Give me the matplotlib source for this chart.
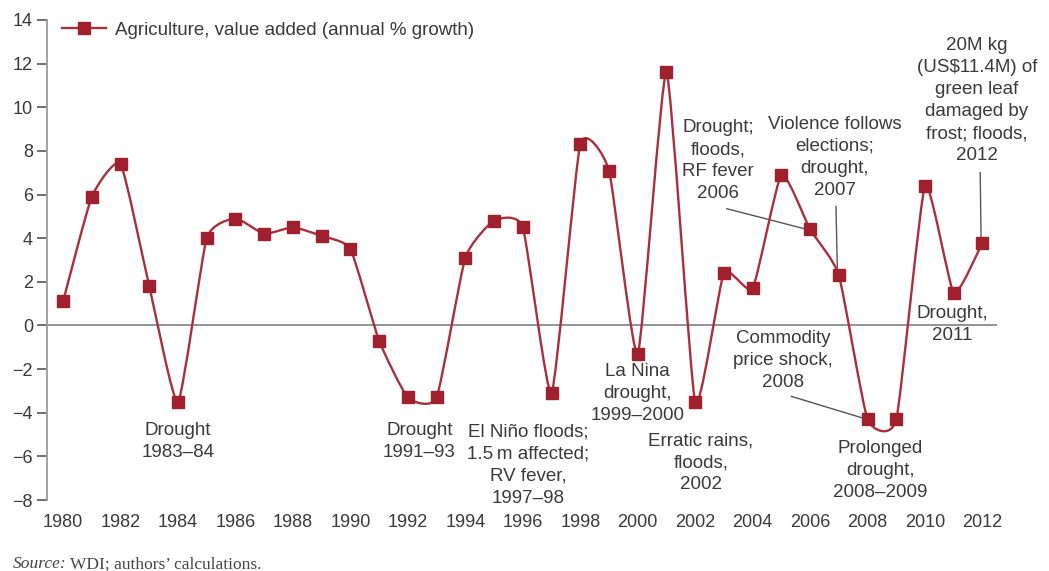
import numpy as np
import matplotlib.pyplot as plt
from matplotlib.path import Path
from matplotlib.patches import PathPatch

years = list(range(1980, 2013))
growth = [1.1, 5.9, 7.4, 1.8, -3.5, 4.0, 4.9, 4.2, 4.5, 4.1, 3.5,
          -0.7, -3.3, -3.3, 3.1, 4.8, 4.5, -3.1, 8.3, 7.1, -1.3,
          11.6, -3.5, 2.4, 1.7, 6.9, 4.4, 2.3, -4.3, -4.3, 6.4, 1.5, 3.8]
y_ticks = [-8, -6, -4, -2, 0, 2, 4, 6, 8, 10, 12, 14]
x_ticks = list(range(1980, 2013, 2))

# notes: text, text position, optional leader line (start, end)
notes = [
    ("Drought\n1983\u201384", (1984.0, -5.3), None),
    ("Drought\n1991\u201393", (1992.4, -5.3), None),
    ("El Niño floods;\n1.5\u2009m affected;\nRV fever,\n1997\u201398", (1996.2, -6.4), None),
    ("La Nina\ndrought,\n1999\u20132000", (2000.0, -3.1), None),
    ("Erratic rains,\nfloods,\n2002", (2002.2, -6.3), None),
    ("Commodity\nprice shock,\n2008", (2005.05, -1.6), ((2005.35, -3.25), (2007.85, -4.25))),
    ("Prolonged\ndrought,\n2008\u20132009", (2008.45, -6.65), None),
    ("Drought,\n2011", (2010.95, 0.05), None),
    ("Drought;\nfloods,\nRF fever\n2006", (2002.8, 7.55), ((2003.1, 5.35), (2005.9, 4.4))),
    ("Violence follows\nelections;\ndrought,\n2007", (2006.85, 7.7), ((2006.9, 5.45), (2006.95, 2.45))),
    ("20M kg\n(US$11.4M) of\ngreen leaf\ndamaged by\nfrost; floods,\n2012", (2011.8, 10.3), ((2011.92, 7.0), (2011.95, 4.0))),
]

line_col = '#ab2f3b'
mark_col = '#a1202d'
text_col = '#3a3a3a'

plt.rcParams['font.family'] = ['Liberation Sans', 'DejaVu Sans']

fig = plt.figure(figsize=(10.49, 5.71), dpi=100)
ax = fig.add_axes([0.0448, 0.1243, 0.9055, 0.8407])

# smoothed line through the points (cardinal spline drawn as bezier segments)
k = 0.5 / 6
xs = np.array(years, dtype=float)
ys = np.array(growth, dtype=float)
px = np.concatenate([[xs[0]], xs, [xs[-1]]])
py = np.concatenate([[ys[0]], ys, [ys[-1]]])
verts = [(xs[0], ys[0])]
codes = [Path.MOVETO]
for i in range(1, len(px) - 2):
    c1 = (px[i] + k * (px[i + 1] - px[i - 1]), py[i] + k * (py[i + 1] - py[i - 1]))
    c2 = (px[i + 1] - k * (px[i + 2] - px[i]), py[i + 1] - k * (py[i + 2] - py[i]))
    verts += [c1, c2, (px[i + 1], py[i + 1])]
    codes += [Path.CURVE4] * 3
ax.add_patch(PathPatch(Path(verts, codes), fill=False, edgecolor=line_col, lw=1.7, zorder=3))

ax.plot(years, growth, ls='none', marker='s', ms=8.5, color=mark_col, zorder=4)
# legend handle
ax.plot([], [], color=line_col, lw=1.7, marker='s', ms=8.5, mfc=mark_col, mec=mark_col,
        label='Agriculture, value added (annual % growth)')
leg = ax.legend(loc='upper left', frameon=False, fontsize=13.5, handlelength=2.35,
                handletextpad=0.45, borderpad=0, borderaxespad=0,
                bbox_to_anchor=(0.016, 0.996))
for t in leg.get_texts():
    t.set_color(text_col)

ax.axhline(0, color='#8a8a8a', lw=1.3, zorder=1)

for txt, pos, lead in notes:
    ax.text(pos[0], pos[1], txt, ha='center', va='center', fontsize=13.5,
            color=text_col, linespacing=1.38, zorder=5)
    if lead is not None:
        ax.plot([lead[0][0], lead[1][0]], [lead[0][1], lead[1][1]], color='#555555', lw=1.0, zorder=2)

ax.set_xlim(1979.44, 2012.5)
ax.set_ylim(-8, 14)
ax.set_yticks(y_ticks)
ax.set_yticklabels(['\u22128', '\u22126', '\u22124', '\u22122', '0', '2', '4', '6', '8', '10', '12', '14'])
ax.set_xticks(x_ticks)
for s in ['top', 'right', 'bottom']:
    ax.spines[s].set_visible(False)
ax.spines['left'].set_color('#9a9a9a')
ax.spines['left'].set_linewidth(1.3)
ax.tick_params(axis='y', length=7, width=1.2, color='#555555', labelsize=13,
               labelcolor=text_col, pad=3)
ax.tick_params(axis='x', length=0, labelsize=13, labelcolor=text_col, pad=10)

src = fig.text(0.012, -0.002, 'Source:', family='Liberation Serif', style='italic',
               fontsize=12.5, color='#444444', va='bottom')
ax.annotate('WDI; authors\u2019 calculations.', xy=(1, 0), xycoords=src,
            xytext=(3, 0), textcoords='offset points', va='bottom', annotation_clip=False,
            family='Liberation Serif', fontsize=12.5, color='#444444')

fig.savefig('out.png', dpi=100)
